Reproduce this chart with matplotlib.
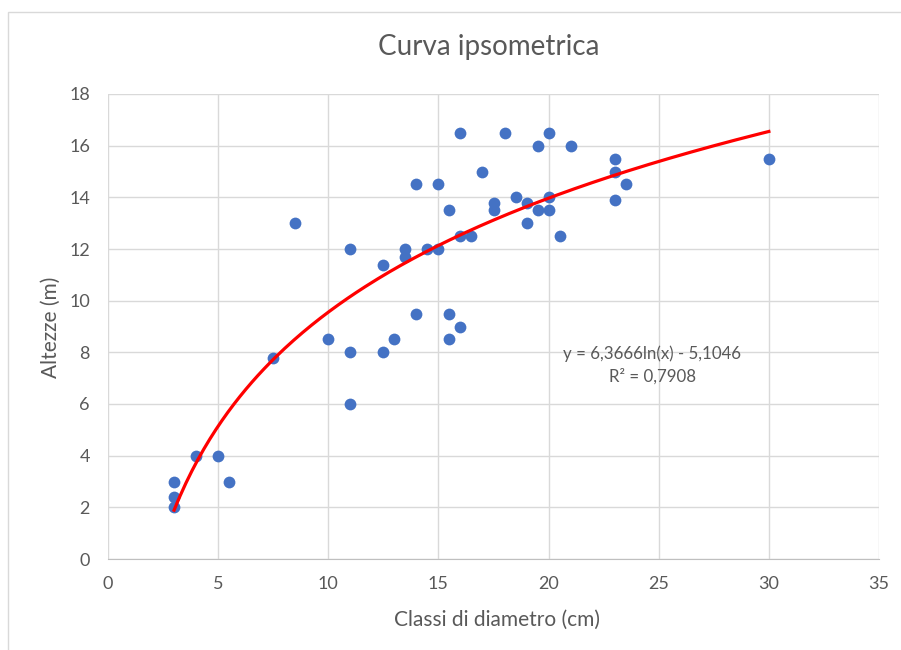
import numpy as np
import matplotlib.pyplot as plt
from matplotlib.patches import Rectangle

# dati: classi di diametro (cm) e altezze (m)
diametri = [3, 3, 3, 4, 5, 5.5, 7.5, 8.5, 10, 11, 11, 11, 12.5, 12.5, 13, 13.5, 13.5,
            14, 14, 14.5, 15, 15, 15.5, 15.5, 15.5, 16, 16, 16, 16.5, 17, 17.5, 17.5,
            18, 18.5, 19, 19, 19.5, 19.5, 20, 20, 20, 20.5, 21, 23, 23, 23, 23.5, 30]
altezze = [3, 2.4, 2, 4, 4, 3, 7.8, 13, 8.5, 12, 8, 6, 11.4, 8, 8.5, 12, 11.7,
           14.5, 9.5, 12, 14.5, 12, 13.5, 9.5, 8.5, 16.5, 12.5, 9, 12.5, 15, 13.8, 13.5,
           16.5, 14, 13.8, 13, 16, 13.5, 16.5, 14, 13.5, 12.5, 16, 15.5, 15, 13.9, 14.5, 15.5]

# linea di tendenza logaritmica (coefficienti da Excel)
coef_a = 6.3666
coef_b = -5.1046
r2 = 0.7908

x_ticks = [0, 5, 10, 15, 20, 25, 30, 35]
y_ticks = [0, 2, 4, 6, 8, 10, 12, 14, 16, 18]

grigio = '#595959'
plt.rcParams['font.family'] = ['Lato', 'DejaVu Sans']

fig = plt.figure(figsize=(9.01, 6.5), dpi=100)
ax = fig.add_axes([108 / 901, 1 - 559 / 650, 771 / 901, 465 / 650])

# cornice del grafico
fig.add_artist(Rectangle((8 / 901, -0.1), 1.2, 1 - 12 / 650 + 0.1, transform=fig.transFigure,
                         fill=False, edgecolor='#d9d9d9', lw=1.0))

ax.scatter(diametri, altezze, s=72, color='#4472C4', zorder=3, linewidths=0)

xt = np.linspace(min(diametri), max(diametri), 200)
ax.plot(xt, coef_a * np.log(xt) + coef_b, color='#FF0000', lw=2.3, zorder=4)

ax.set_xlim(0, 35)
ax.set_ylim(0, 18)
ax.set_xticks(x_ticks)
ax.set_yticks(y_ticks)
ax.grid(True, color='#d9d9d9', lw=1.0)
ax.set_axisbelow(True)
for s in ['top', 'right', 'left']:
    ax.spines[s].set_visible(False)
ax.spines['bottom'].set_color('#bfbfbf')
ax.tick_params(length=0, labelsize=13, labelcolor=grigio)
ax.tick_params(axis='x', pad=12)
ax.tick_params(axis='y', pad=13)

# titoli assi e grafico
fig.text(497 / 901, 1 - 620 / 650, 'Classi di diametro (cm)', ha='center', va='center',
         fontsize=15, color=grigio)
fig.text(51 / 901, 1 - 327 / 650, 'Altezze (m)', ha='center', va='center', rotation=90,
         fontsize=15, color=grigio)
fig.text(489 / 901, 1 - 47 / 650, 'Curva ipsometrica', ha='center', va='center',
         fontsize=20, color=grigio)

eq = f'y = {coef_a:.4f}ln(x) - {abs(coef_b):.4f}'.replace('.', ',')
ax.text(24.7, 7.5, eq + '\n' + f'R² = {r2:.4f}'.replace('.', ','), ha='center', va='center',
        fontsize=12.2, color=grigio, linespacing=1.45)

fig.savefig('out.png', dpi=100, facecolor='white')
